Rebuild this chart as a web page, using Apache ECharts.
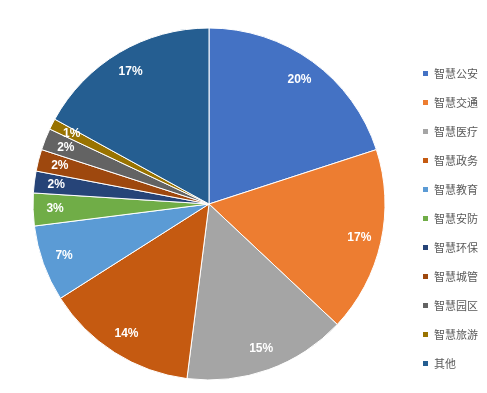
<!DOCTYPE html>
<html><head><meta charset="utf-8">
<script src="https://cdn.jsdelivr.net/npm/echarts@6/dist/echarts.min.js"></script>
<style>html,body{margin:0;padding:0;background:#fff}#c{width:487px;height:393px}</style>
</head><body><div id="c"></div>
<script>
const categories = ['智慧公安','智慧交通','智慧医疗','智慧政务','智慧教育','智慧安防','智慧环保','智慧城管','智慧园区','智慧旅游','其他'];
const values = [20,17,15,14,7,3,2,2,2,1,17];
const colors = ['#4472C4','#ED7D31','#A5A5A5','#C55A11','#5B9BD5','#70AD47','#264478','#9E480E','#636363','#997300','#255E91'];
const data = categories.map((n,i)=>({name:n,value:values[i]}));
const chart = echarts.init(document.getElementById('c'));
chart.setOption({
  animation:false,
  color:colors,
  legend:{orient:'vertical',left:421,top:68,padding:0,itemWidth:7,itemHeight:7,itemGap:18,icon:'rect',
    textStyle:{fontSize:11,color:'#595959',fontFamily:'Noto Sans CJK SC'},data:categories},
  series:[
    {type:'pie',center:[209,204],radius:[0,176],startAngle:90,clockwise:true,data:data,
     itemStyle:{borderColor:'#fff',borderWidth:1},label:{show:false},labelLine:{show:false},silent:true},
    {type:'pie',center:[209,204],radius:[126,176],startAngle:90,clockwise:true,data:data,
     itemStyle:{color:'rgba(0,0,0,0)'},labelLine:{show:false},silent:true,
     label:{show:true,position:'inside',formatter:'{c}%',color:'#fff',fontWeight:'bold',fontSize:12,fontFamily:'Liberation Sans'}}
  ]
});
</script></body></html>
